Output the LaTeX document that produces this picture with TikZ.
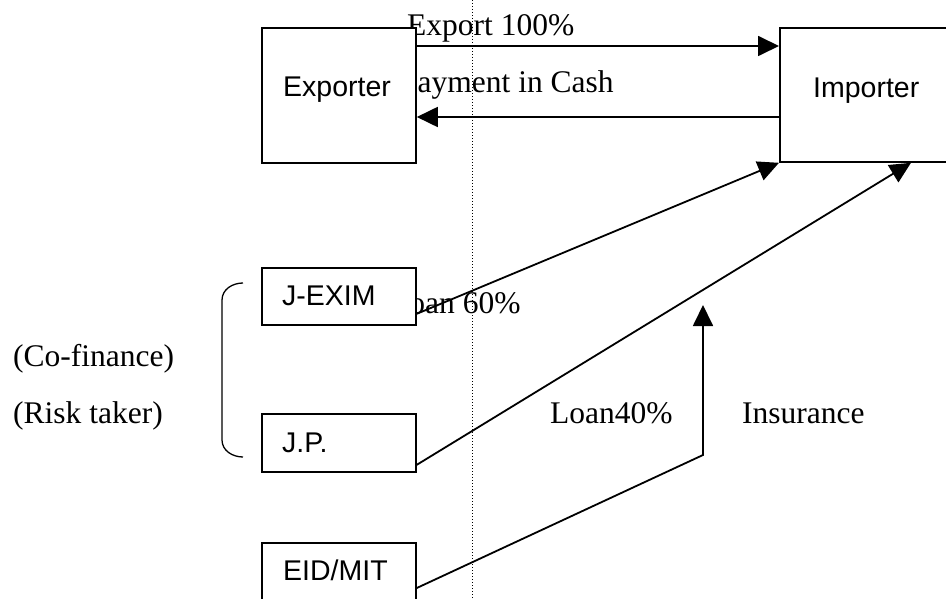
\documentclass[tikz,border=0pt]{standalone}
\usepackage{fontspec}
\setmainfont{Liberation Serif}
\setsansfont{Liberation Sans}
\usetikzlibrary{arrows.meta}
\begin{document}
\begin{tikzpicture}[x=1pt,y=-1pt,
  boxnode/.style={draw,fill=white,rectangle,line width=1.8pt,inner sep=0pt,anchor=north west},
  boxlabel/.style={inner sep=0pt,anchor=base west,font=\sffamily\fontsize{28.5}{32}\selectfont},
  seriflabel/.style={inner sep=0pt,anchor=base west,font=\rmfamily\fontsize{31.5}{36}\selectfont},
  flowarrow/.style={line width=1.8pt,-{Triangle[length=21pt,width=20pt]}},
  dottedline/.style={line width=1pt,dotted}]
\useasboundingbox (0,0) rectangle (946,599);

% texts partly hidden by boxes
\node[seriflabel] (exportlbl) at (407,36) {Export 100\%};
\node[seriflabel] (paylbl) at (400,93) {Payment in Cash};
\node[seriflabel] (loansixty) at (390,313) {Loan 60\%};
\node[seriflabel] (loanforty) at (550,423) {Loan40\%};
\node[seriflabel] (insur) at (742,423) {Insurance};
\node[seriflabel] (cofin) at (13,366) {(Co-finance)};
\node[seriflabel] (risk) at (13,423) {(Risk taker)};

% dotted vertical line
\coordinate (dtop) at (472,0);
\coordinate (dbot) at (472,599);
\draw[dottedline] (dtop) -- (dbot);

% boxes
\node[boxnode,minimum width=154pt,minimum height=135pt] (exporter) at (261,27) {};
\node[boxnode,minimum width=200pt,minimum height=134pt] (importer) at (779,27) {};
\node[boxnode,minimum width=154pt,minimum height=57pt] (jexim) at (261,267) {};
\node[boxnode,minimum width=154pt,minimum height=58pt] (jp) at (261,413) {};
\node[boxnode,minimum width=154pt,minimum height=80pt] (eid) at (261,542) {};

\node[boxlabel] (exporterlbl) at (283,97) {Exporter};
\node[boxlabel] (importerlbl) at (813,98) {Importer};
\node[boxlabel] (jeximlbl) at (282,305) {J-EXIM};
\node[boxlabel] (jplbl) at (282,452) {J.P.};
\node[boxlabel] (eidlbl) at (283,580) {EID/MIT};

% arrows
\draw[flowarrow] ([yshift=-19pt]exporter.north east) -- ([yshift=-19pt]importer.north west);
\draw[flowarrow] ([yshift=-90pt]importer.north west) -- ([yshift=-90pt]exporter.north east);
\draw[flowarrow] ([yshift=12pt]jexim.south east) -- (importer.south west);
\draw[flowarrow] ([yshift=8pt]jp.south east) -- ([xshift=132pt]importer.south west);
\coordinate (bend) at (703,455);
\coordinate (instip) at (703,305);
\draw[flowarrow] ([yshift=-46pt]eid.north east) -- (bend) -- (instip);

% bracket
\draw[line width=1.3pt] (243,283) to[out=180,in=90] (222,300) -- (222,440) to[out=-90,in=180] (243,457);
\end{tikzpicture}
\end{document}
